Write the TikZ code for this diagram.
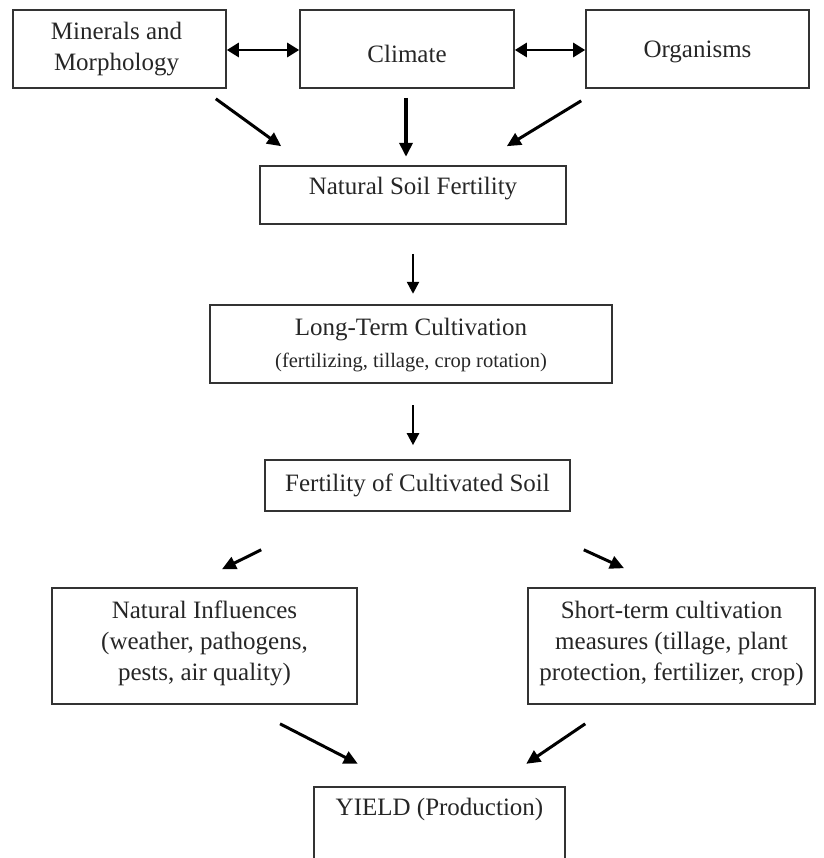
\documentclass[tikz,border=0pt]{standalone}
\usepackage{fontspec}
\setmainfont{Liberation Serif}
\usetikzlibrary{arrows.meta,calc}
\begin{document}
\begin{tikzpicture}[x=1pt,y=-1pt,
  box/.style={draw=black!80,line width=1.6pt,rectangle,inner sep=0pt},
  txt/.style={align=center,text=black!85,inner sep=0pt,font=\fontsize{25}{31}\selectfont},
  small/.style={txt,font=\fontsize{20.5}{24}\selectfont},
  arr/.style={line width=3pt,-{Triangle[length=14pt,width=13pt]}},
  varr/.style={line width=2.4pt,-{Triangle[length=12pt,width=12pt]}},
  darr/.style={line width=2.8pt,{Triangle[length=12pt,width=14pt]}-{Triangle[length=12pt,width=14pt]}}]
\useasboundingbox (0,0) rectangle (823,858);
% boxes
\node[box,minimum width=213pt,minimum height=78pt] (min) at (119.5,49) {};
\node[box,minimum width=214pt,minimum height=78pt] (cli) at (407,49) {};
\node[box,minimum width=223pt,minimum height=78pt] (org) at (697.5,49) {};
\node[box,minimum width=306pt,minimum height=58pt] (nsf) at (413,195) {};
\node[box,minimum width=402pt,minimum height=78pt] (ltc) at (411,344) {};
\node[box,minimum width=305pt,minimum height=51pt] (fcs) at (417.5,485.5) {};
\node[box,minimum width=305pt,minimum height=116pt] (nat) at (204.5,646) {};
\node[box,minimum width=287pt,minimum height=116pt] (sht) at (671.5,646) {};
\node[minimum width=251pt,minimum height=75pt,inner sep=0pt] (yld) at (439.5,824.5) {};
\draw[draw=black!80,line width=1.6pt] (yld.south west) |- (yld.north east) -- (yld.south east);
% texts
\node[txt] (tmin) at ($(min.center)+(-3,0)$) {Minerals and\\Morphology};
\node[txt] (tcli) at ($(cli.center)+(0,5)$) {Climate};
\node[txt] (torg) at ($(org.center)+(0,3)$) {Organisms};
\node[txt] (tnsf) at ($(nsf.center)+(0,-6)$) {Natural Soil Fertility};
\node[txt] (tltc) at ($(ltc.center)+(0,-14)$) {Long-Term Cultivation};
\node[small] (tltc2) at ($(ltc.center)+(0,18)$) {(fertilizing, tillage, crop rotation)};
\node[txt] (tfcs) at (fcs.center) {Fertility of Cultivated Soil};
\node[txt] (tnat) at ($(nat.center)+(0,-3)$) {Natural Influences\\(weather, pathogens,\\pests, air quality)};
\node[txt] (tsht) at ($(sht.center)+(0,-3)$) {Short-term cultivation\\measures (tillage, plant\\protection, fertilizer, crop)};
\node[txt] (tyld) at ($(yld.north)+(0,23)$) {YIELD (Production)};
% connector end points
\coordinate (a1s) at ($(min.south east)+(-11,10)$);
\coordinate (a1e) at ($(nsf.north west)+(22,-19)$);
\coordinate (a2s) at ($(cli.south)+(-1,9)$);
\coordinate (a2e) at ($(cli.south)+(-1,68)$);
\coordinate (a3s) at ($(org.south west)+(-4,12)$);
\coordinate (a3e) at ($(nsf.north east)+(-60,-19)$);
\coordinate (a4s) at ($(nsf.south)+(0,29)$);
\coordinate (a4e) at ($(nsf.south)+(0,69)$);
\coordinate (a5s) at ($(fcs.north)+(-4.5,-54)$);
\coordinate (a5e) at ($(fcs.north)+(-4.5,-14)$);
\coordinate (a6s) at ($(fcs.south west)+(-3,38)$);
\coordinate (a6e) at ($(nat.north)+(17.5,-18)$);
\coordinate (a7s) at ($(fcs.south east)+(13,38)$);
\coordinate (a7e) at ($(sht.north)+(-47.5,-19)$);
\coordinate (a8s) at ($(nat.south)+(75.5,19)$);
\coordinate (a8e) at ($(yld.north west)+(44,-23)$);
\coordinate (a9s) at ($(sht.south west)+(58,19)$);
\coordinate (a9e) at ($(yld.north east)+(-39,-23)$);
% connectors
\draw[darr] (min.east |- 0,50) -- (cli.west |- 0,50);
\draw[darr] (cli.east |- 0,50) -- (org.west |- 0,50);
\draw[arr] (a1s) -- (a1e);
\draw[arr,line width=3.6pt] (a2s) -- (a2e);
\draw[arr] (a3s) -- (a3e);
\draw[varr] (a4s) -- (a4e);
\draw[varr] (a5s) -- (a5e);
\draw[arr] (a6s) -- (a6e);
\draw[arr] (a7s) -- (a7e);
\draw[arr] (a8s) -- (a8e);
\draw[arr] (a9s) -- (a9e);
\end{tikzpicture}
\end{document}
